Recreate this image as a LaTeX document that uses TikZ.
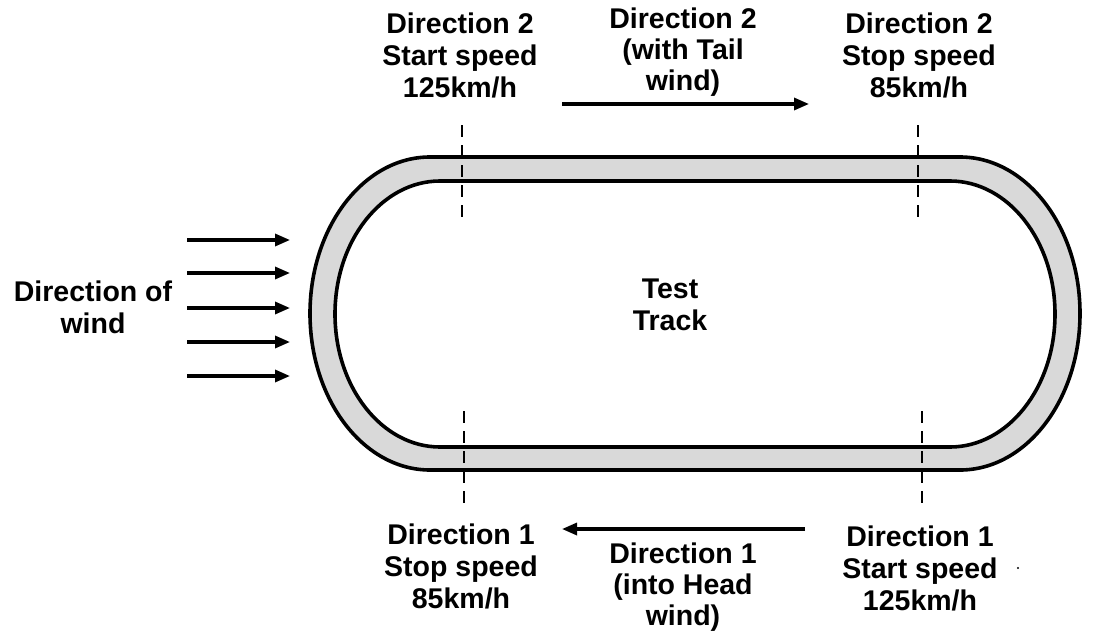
\documentclass[tikz,border=0pt]{standalone}
\usepackage{fontspec}
\setmainfont{Liberation Sans}
\usetikzlibrary{arrows.meta}
\begin{document}
\begin{tikzpicture}[x=1pt,y=-1pt,
  lbl/.style={font=\fontsize{28.5}{32}\selectfont\bfseries, align=center, anchor=base, inner sep=0pt},
  lblmid/.style={lbl, font=\fontsize{28.5}{31}\selectfont\bfseries},
  arr/.style={line width=3.2pt, -{Triangle[length=15pt,width=12pt]}},
  cutline/.style={line width=2.8pt, dash pattern=on 12pt off 8pt},
  trackline/.style={line width=3.6pt},
]
\useasboundingbox (0,0) rectangle (1100,637);
% track
\fill[gray!30, even odd rule]
  (430,157) -- (960,157) arc[start angle=-90, end angle=90, x radius=120, y radius=156.5]
  -- (430,470) arc[start angle=90, end angle=270, x radius=120, y radius=156.5] -- cycle
  (440,181) -- (950,181) arc[start angle=-90, end angle=90, x radius=105, y radius=133]
  -- (440,447) arc[start angle=90, end angle=270, x radius=105, y radius=133] -- cycle;
\draw[trackline]
  (430,157) -- (960,157) arc[start angle=-90, end angle=90, x radius=120, y radius=156.5]
  -- (430,470) arc[start angle=90, end angle=270, x radius=120, y radius=156.5] -- cycle;
\draw[trackline]
  (440,181) -- (950,181) arc[start angle=-90, end angle=90, x radius=105, y radius=133]
  -- (440,447) arc[start angle=90, end angle=270, x radius=105, y radius=133] -- cycle;
% cut lines
\coordinate (c1a) at (462,125); \coordinate (c1b) at (462,221);
\coordinate (c2a) at (918,125); \coordinate (c2b) at (918,219);
\coordinate (c3a) at (464,411); \coordinate (c3b) at (464,510);
\coordinate (c4a) at (922,411); \coordinate (c4b) at (922,510);
\draw[cutline] (c1a) -- (c1b);
\draw[cutline] (c2a) -- (c2b);
\draw[cutline] (c3a) -- (c3b);
\draw[cutline] (c4a) -- (c4b);
% labels (anchor = baseline of last line)
\node[lbl] (d2start) at (460,97) {Direction 2\\Start speed\\125km/h};
\node[lblmid] (d2mid) at (683,90) {Direction 2\\(with Tail\\wind)};
\node[lbl] (d2stop) at (919,97) {Direction 2\\Stop speed\\85km/h};
\node[lbl] (d1stop) at (461,608) {Direction 1\\Stop speed\\85km/h};
\node[lblmid] (d1mid) at (683,625) {Direction 1\\(into Head\\wind)};
\node[lbl] (d1start) at (920,610) {Direction 1\\Start speed\\125km/h};
\node[lbl] (wind) at (93,333) {Direction of\\wind};
\node[lbl] (track) at (670,330) {Test\\Track};
% direction arrows
\coordinate (t1) at (562,104); \coordinate (t2) at (809,104);
\coordinate (b1) at (805,529); \coordinate (b2) at (562,529);
\draw[arr] (t1) -- (t2);
\draw[arr] (b1) -- (b2);
% wind arrows
\foreach \i/\yy in {1/240,2/273,3/308,4/342,5/376}{
  \coordinate (ws\i) at (187,\yy);
  \coordinate (we\i) at (290,\yy);
  \draw[arr] (ws\i) -- (we\i);
}
\fill (1018,568) circle[radius=1.2pt];
\end{tikzpicture}
\end{document}
